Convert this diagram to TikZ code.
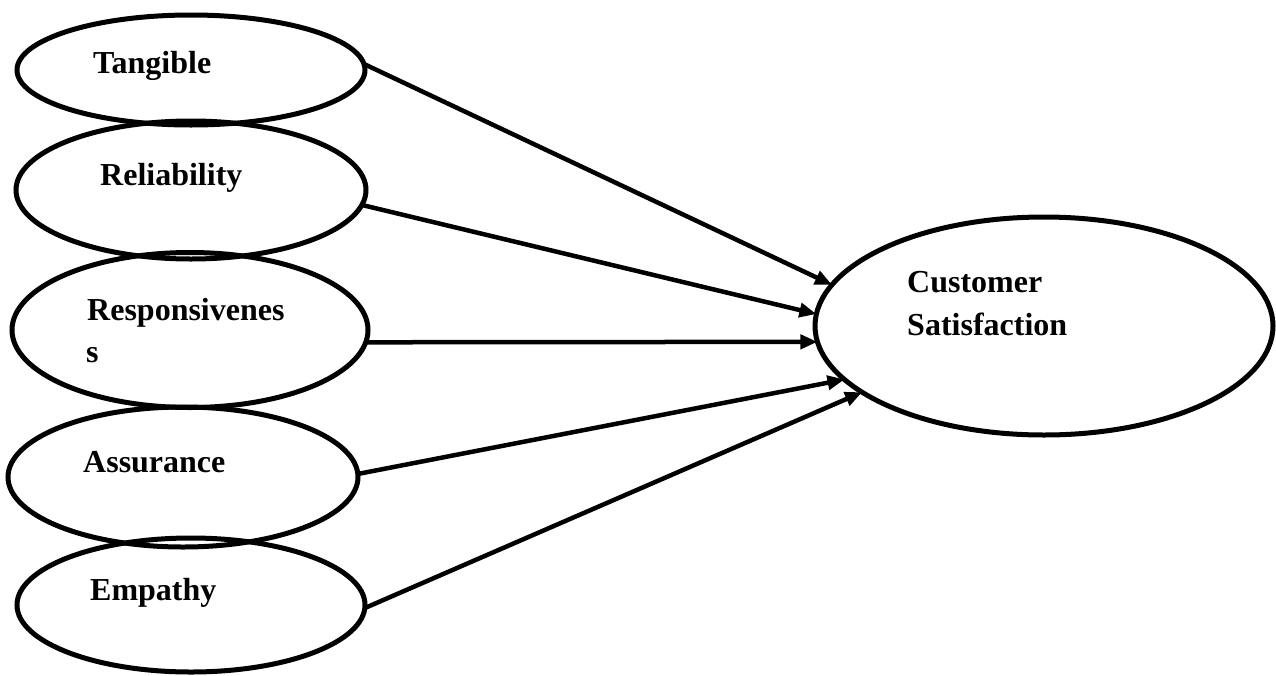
\documentclass[tikz,border=0pt]{standalone}
\usepackage{fontspec}
\setmainfont{Liberation Serif}
\usetikzlibrary{shapes.geometric,arrows.meta}
\begin{document}
\begin{tikzpicture}[x=1pt,y=-1pt,
  oval/.style={draw,ellipse,line width=5pt,inner sep=0pt,outer sep=0pt},
  lbl/.style={anchor=base west,inner sep=0pt,font=\fontsize{32}{38}\selectfont\bfseries},
  arr/.style={line width=4.5pt,-{Triangle[length=17pt,width=14pt]}}]
\useasboundingbox (0,0) rectangle (1276,675);
% ellipses
\node[oval,minimum width=348pt,minimum height=110pt] (t) at (191,70) {};
\node[oval,minimum width=350pt,minimum height=138pt] (r) at (191,190) {};
\node[oval,minimum width=356pt,minimum height=155pt] (p) at (190,330) {};
\node[oval,minimum width=350pt,minimum height=140pt] (a) at (183,477) {};
\node[oval,minimum width=348pt,minimum height=134pt] (e) at (191,605) {};
\node[oval,minimum width=458pt,minimum height=218pt] (cs) at (1044,326) {};
% labels
\node[lbl] (tl) at (93,73) {Tangible};
\node[lbl] (rl) at (100,185) {Reliability};
\node[lbl] (pl) at (87,320) {Responsivenes};
\node[lbl] (pl2) at (86,362) {s};
\node[lbl] (al) at (83,472) {Assurance};
\node[lbl] (el) at (90,600) {Empathy};
\node[lbl] (csl1) at (907,292) {Customer};
\node[lbl] (csl2) at (907,335) {Satisfaction};
% connectors
\draw[arr] (t.2) -- (cs.169);
\draw[arr] (r.-5) -- (cs.177);
\draw[arr] (p.-4) -- (cs.184);
\draw[arr] (a.1) -- (cs.195);
\draw[arr] (e.-1) -- (cs.200);
\end{tikzpicture}
\end{document}
